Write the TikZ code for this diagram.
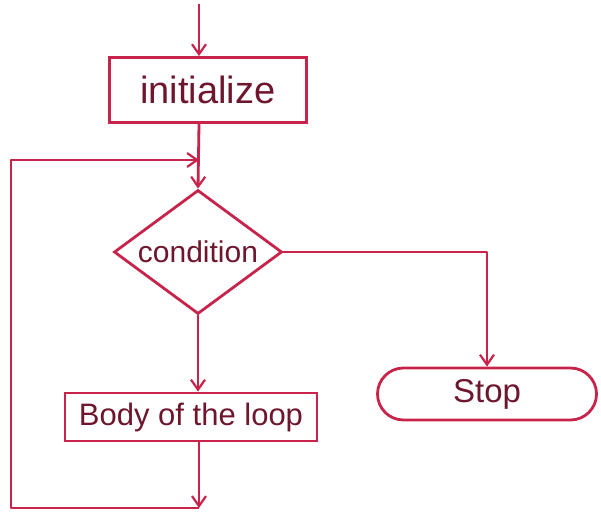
\documentclass[tikz,border=0pt]{standalone}
\usepackage{fontspec}
\setmainfont{Liberation Sans}
\usetikzlibrary{arrows.meta,shapes.geometric,shapes.misc}
\definecolor{ink}{RGB}{200,35,75}
\definecolor{pen}{RGB}{110,22,45}
\tikzset{
  x=1pt, y=-1pt,
  flow/.style={draw=ink, line width=2.8pt, line join=round},
  arr/.style={flow, -{Straight Barb[length=10pt,width=14pt,line width=2.2pt]}},
  boxstyle/.style={draw=ink, line width=2.8pt, text=pen, inner sep=0pt},
}
\begin{document}
\begin{tikzpicture}
  \useasboundingbox (0,0) rectangle (601,513);
  % shapes
  \node[boxstyle, rectangle, minimum width=197pt, minimum height=65pt,
        font=\fontsize{38}{40}\selectfont] (init) at (208,90) {initialize};
  \node[boxstyle, diamond, minimum width=168pt, minimum height=124pt,
        label={[text=pen, font=\fontsize{30}{32}\selectfont]center:condition}]
        (cond) at (198,252) {};
  \node[boxstyle, rectangle, minimum width=252pt, minimum height=48pt,
        font=\fontsize{31}{33}\selectfont] (body) at (191,417) {Body of the loop};
  \node[boxstyle, rounded rectangle, minimum width=219pt, minimum height=52pt,
        font=\fontsize{33}{35}\selectfont] (stop) at (487,394) {Stop};
  % helper points for the loop
  \coordinate (topin) at (199,4);
  \coordinate (loopbot) at (199,508);
  \coordinate (loopleft) at (11,508);
  \coordinate (looptop) at (11,160);
  \coordinate (join) at (199,160);
  % connectors
  \draw[arr] (topin) -- (topin |- init.north);
  \draw[arr] (init.south -| topin) -- (cond.north);
  \draw[arr] (cond.east) -- (stop.north |- cond.east) -- (stop.north);
  \draw[arr] (cond.south) -- (cond.south |- body.north);
  \draw[arr] (body.south -| loopbot) -- (loopbot);
  \draw[arr] (loopbot) -- (loopleft) -- (looptop) -- (join);
\end{tikzpicture}
\end{document}
